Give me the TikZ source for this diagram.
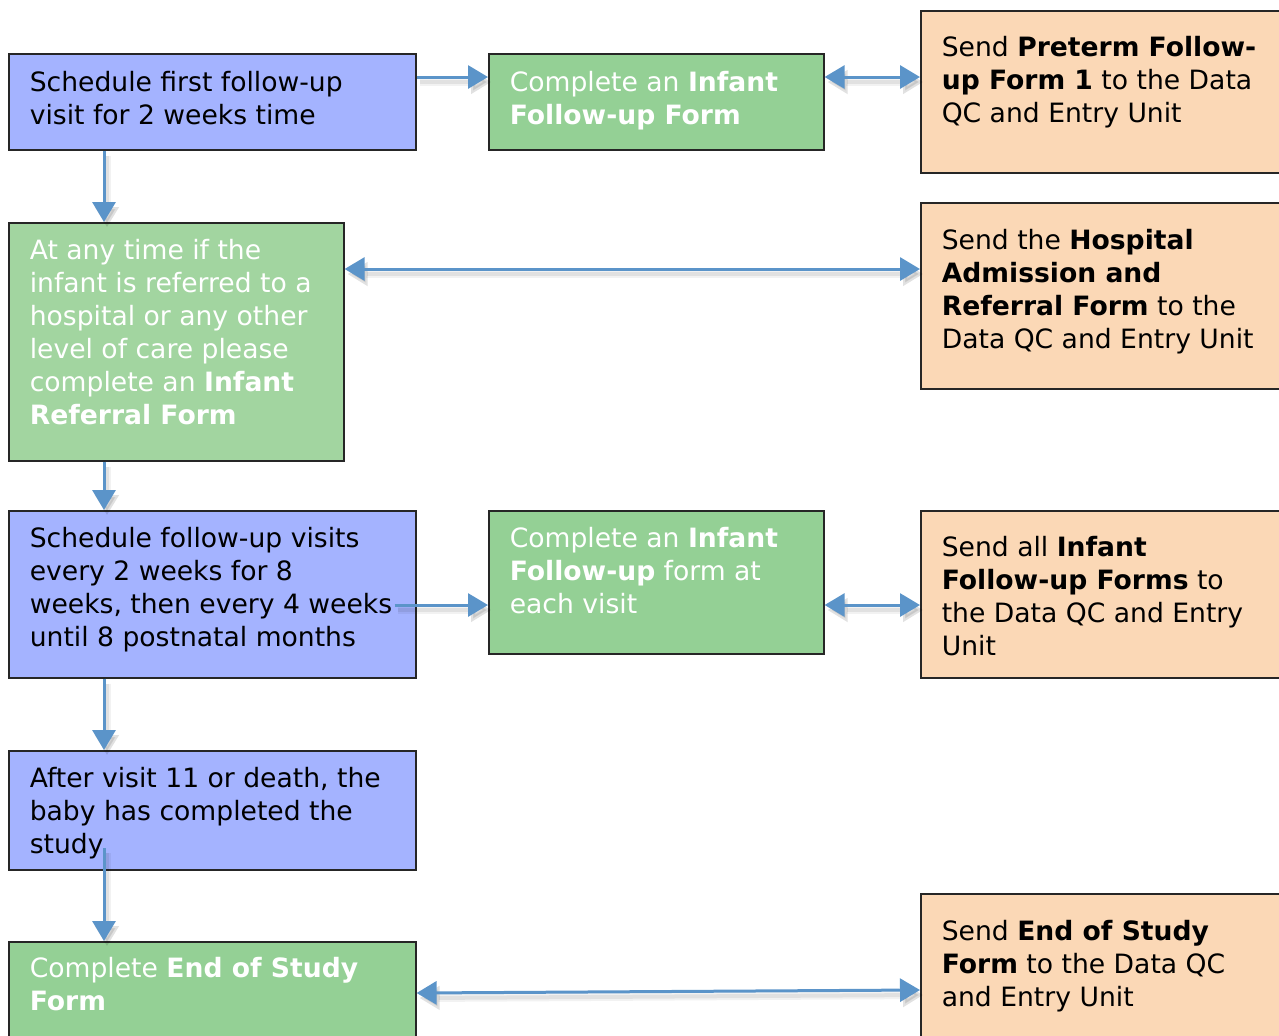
\documentclass[tikz,border=0pt]{standalone}
\usepackage{fontspec}
\setmainfont{DejaVu Sans}
\usetikzlibrary{arrows.meta,calc}
\newlength\pxu \setlength\pxu{0.5pt}
\newcommand\bxt[4]{\begin{minipage}[c][#2\pxu][t]{#1\pxu}\fontsize{13.3}{16.5}\selectfont\parindent=0pt\leftskip=21\pxu\rightskip=-300\pxu plus 1fil\rule{0pt}{#3\pxu}#4\end{minipage}}
\definecolor{bluefill}{RGB}{164,179,255}
\definecolor{greenfill}{RGB}{148,208,149}
\definecolor{greenlight}{RGB}{162,213,160}
\definecolor{orangefill}{RGB}{251,216,182}
\definecolor{arrcol}{RGB}{91,148,201}
\tikzset{
  box/.style={draw=black!85, line width=0.8pt, inner sep=0pt, anchor=north west},
  bluebox/.style={box, fill=bluefill, text=black},
  greenbox/.style={box, fill=greenfill, text=white},
  greenbox2/.style={box, fill=greenlight, text=white},
  orangebox/.style={box, fill=orangefill, text=black},
  arr/.style={draw=arrcol, line width=1.5pt, -{Triangle[length=10pt,width=11.5pt]},
    preaction={draw=black, opacity=0.05, line width=4pt, transform canvas={shift={(1.5pt,-2.5pt)}}},
    preaction={draw=black, opacity=0.07, line width=2pt, transform canvas={shift={(1.5pt,-2.5pt)}}}},
  darr/.style={arr, {Triangle[length=10pt,width=11.5pt]}-{Triangle[length=10pt,width=11.5pt]}}
}
\begin{document}
\begin{tikzpicture}[x=0.5pt,y=-0.5pt]
\useasboundingbox (0,0) rectangle (1279,1035);
\begin{scope}
\clip (0,0) rectangle (1279,1035);
\node[bluebox] (A) at (8,53) {\bxt{407}{96}{38}{Schedule first follow-up\\visit for 2 weeks time}};
\node[greenbox] (B) at (488,53) {\bxt{335}{96}{38}{Complete an \textbf{Infant}\\\textbf{Follow-up Form}}};
\node[orangebox] (C) at (920,10) {\bxt{420}{162}{46}{Send \textbf{Preterm Follow-}\\\textbf{up Form 1} to the Data\\QC and Entry Unit}};
\node[greenbox2] (D) at (8,222) {\bxt{335}{238}{37}{At any time if the\\infant is referred to a\\hospital or any other\\level of care please\\complete an \textbf{Infant}\\\textbf{Referral Form}}};
\node[orangebox] (E) at (920,202) {\bxt{420}{186}{47}{Send the \textbf{Hospital}\\\textbf{Admission and}\\\textbf{Referral Form} to the\\Data QC and Entry Unit}};
\node[bluebox] (F) at (8,510) {\bxt{407}{167}{37}{Schedule follow-up visits\\every 2 weeks for 8\\weeks, then every 4 weeks\\until 8 postnatal months}};
\node[greenbox] (G) at (488,510) {\bxt{335}{143}{37}{Complete an \textbf{Infant}\\\textbf{Follow-up} form at\\each visit}};
\node[orangebox] (H) at (920,510) {\bxt{420}{167}{46}{Send all \textbf{Infant}\\\textbf{Follow-up Forms} to\\the Data QC and Entry\\Unit}};
\node[bluebox] (I) at (8,750) {\bxt{407}{119}{37}{After visit 11 or death, the\\baby has completed the\\study}};
\node[greenbox] (J) at (8,941) {\bxt{407}{150}{36}{Complete \textbf{End of Study}\\\textbf{Form}}};
\node[orangebox] (K) at (920,893) {\bxt{420}{200}{47}{Send \textbf{End of Study}\\\textbf{Form} to the Data QC\\and Entry Unit}};

\draw[arr] ($(A.north east)+(0,24)$) -- ($(B.north west)+(0,24)$);
\draw[darr] ($(B.north east)+(0,24)$) -- ($(C.north west)+(0,67)$);
\draw[arr] ($(A.south west)+(96,0)$) -- ($(D.north west)+(96,0)$);
\draw[darr] ($(D.north east)+(0,47)$) -- ($(E.north west)+(0,67)$);
\draw[arr] ($(D.south west)+(96,0)$) -- ($(F.north west)+(96,0)$);
\draw[arr] ($(F.north east)+(-22,95)$) -- ($(G.north west)+(0,95)$);
\draw[darr] ($(G.north east)+(0,95)$) -- ($(H.north west)+(0,95)$);
\draw[arr] ($(F.south west)+(96,0)$) -- ($(I.north west)+(96,0)$);
\draw[arr] ($(I.north west)+(96,98)$) -- ($(J.north west)+(96,0)$);
\draw[darr] ($(J.north east)+(0,52)$) -- ($(K.north west)+(0,97)$);
\end{scope}
\end{tikzpicture}
\end{document}
